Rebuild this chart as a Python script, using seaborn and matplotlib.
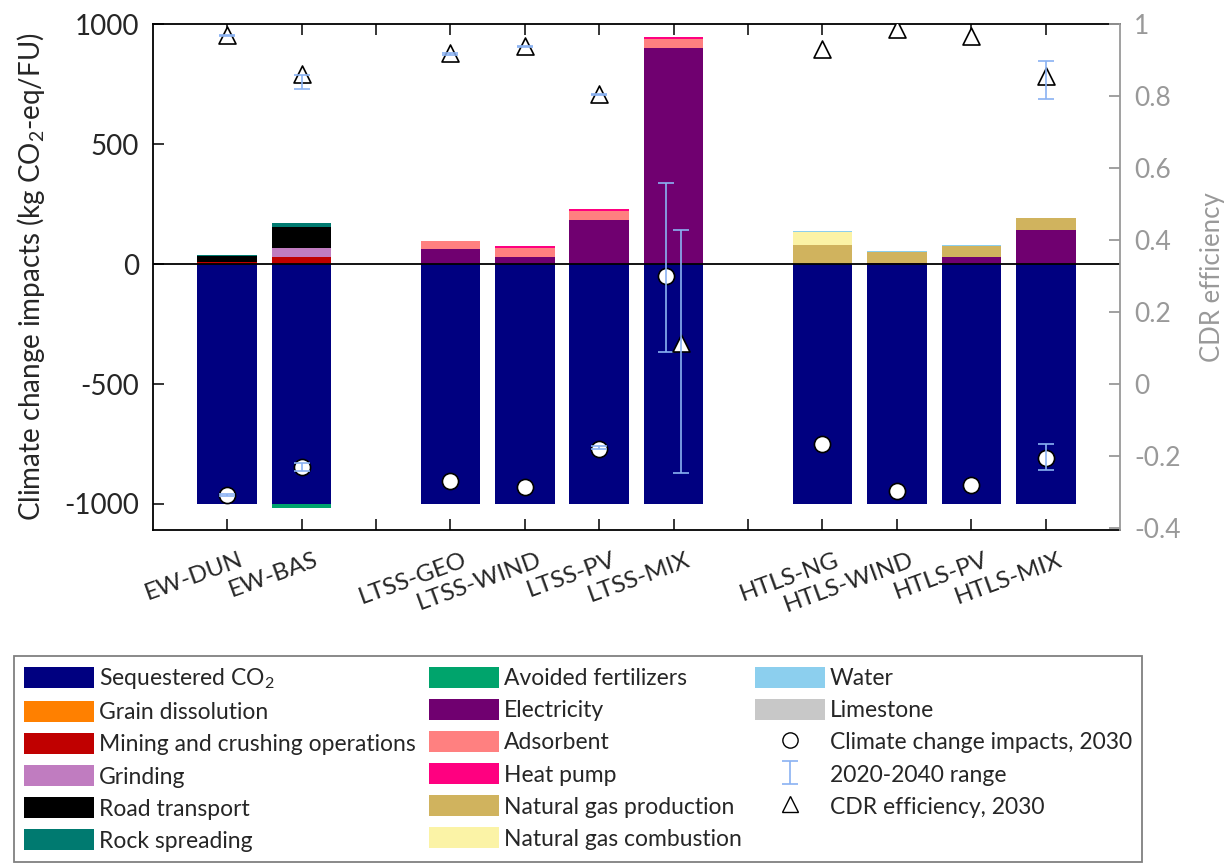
import numpy as np
import matplotlib.pyplot as plt
import matplotlib.transforms as mtransforms
import seaborn as sns
from matplotlib.lines import Line2D

sns.set_style('ticks')
plt.rcParams['font.family'] = ['Lato', 'DejaVu Sans']
plt.rcParams['mathtext.default'] = 'regular'
plt.rcParams['axes.unicode_minus'] = False

# Categories ('' = empty slot between groups)
categories = ['EW-DUN', 'EW-BAS', '', 'LTSS-GEO', 'LTSS-WIND', 'LTSS-PV', 'LTSS-MIX',
              '', 'HTLS-NG', 'HTLS-WIND', 'HTLS-PV', 'HTLS-MIX']

# Contributions (kg CO2-eq/FU)
sequestered = [-1000, -1000, 0, -1000, -1000, -1000, -1000, 0, -1000, -1000, -1000, -1000]
grain_dissolution = [0, 0, 0, 0, 0, 0, 0, 0, 0, 0, 0, 0]
mining = [8, 30, 0, 0, 0, 0, 0, 0, 0, 0, 0, 0]
grinding = [2, 39, 0, 0, 0, 0, 0, 0, 0, 0, 0, 0]
road_transport = [24, 86, 0, 0, 0, 0, 0, 0, 0, 0, 0, 0]
rock_spreading = [5, 17, 0, 0, 0, 0, 0, 0, 0, 0, 0, 0]
avoided_fertilizers = [0, -18, 0, 0, 0, 0, 0, 0, 0, 0, 0, 0]
electricity = [0, 0, 0, 61, 30, 184, 900, 0, 0, 5, 28, 140]
adsorbent = [0, 0, 0, 36, 37, 37, 38, 0, 0, 0, 0, 0]
heat_pump = [0, 0, 0, 0, 8, 8, 8, 0, 0, 0, 0, 0]
ng_production = [0, 0, 0, 0, 0, 0, 0, 0, 80, 46, 48, 50]
ng_combustion = [0, 0, 0, 0, 0, 0, 0, 0, 55, 0, 0, 0]
water = [0, 0, 0, 0, 0, 0, 0, 0, 3, 4, 3, 3]
limestone = [0, 0, 0, 0, 0, 0, 0, 0, 0, 0, 0, 0]

# Climate change impacts 2030 and 2020-2040 range
impact_2030 = [-962, -846, np.nan, -903, -928, -772, -51, np.nan, -752, -944, -920, -808]
impact_low = [-965, -862, np.nan, np.nan, np.nan, -771, -367, np.nan, np.nan, np.nan, np.nan, -860]
impact_high = [-960, -830, np.nan, np.nan, np.nan, -760, 336, np.nan, np.nan, np.nan, np.nan, -750]

# CDR efficiency 2030 and 2020-2040 range
cdr_2030 = [0.971, 0.861, np.nan, 0.919, 0.94, 0.806, 0.115, np.nan, 0.93, 0.987, 0.966, 0.857]
cdr_low = [0.967, 0.82, np.nan, 0.915, 0.936, 0.802, -0.248, np.nan, np.nan, np.nan, np.nan, 0.792]
cdr_high = [0.971, 0.86, np.nan, 0.919, 0.94, 0.806, 0.428, np.nan, np.nan, np.nan, np.nan, 0.899]

components = [
    ('Sequestered CO$_2$', sequestered, '#000080'),
    ('Grain dissolution', grain_dissolution, '#FF8000'),
    ('Mining and crushing operations', mining, '#C00000'),
    ('Grinding', grinding, '#C07CC0'),
    ('Road transport', road_transport, '#000000'),
    ('Rock spreading', rock_spreading, '#007A70'),
    ('Avoided fertilizers', avoided_fertilizers, '#00A46C'),
    ('Electricity', electricity, '#700070'),
    ('Adsorbent', adsorbent, '#FF8080'),
    ('Heat pump', heat_pump, '#FF0080'),
    ('Natural gas production', ng_production, '#D0B35E'),
    ('Natural gas combustion', ng_combustion, '#FBF3A6'),
    ('Water', water, '#8CCFEE'),
    ('Limestone', limestone, '#C8C8C8'),
]

err_color = '#8AB2F2'

fig, ax = plt.subplots(figsize=(12.31, 8.64), dpi=100)
fig.subplots_adjust(left=0.124, right=0.91, top=0.972, bottom=0.387)

x = np.arange(1, len(categories) + 1)
pos_bottom = np.zeros(len(x))
neg_bottom = np.zeros(len(x))
handles = []
for label, vals, color in components:
    vals = np.array(vals, dtype=float)
    bottom = np.where(vals >= 0, pos_bottom, neg_bottom)
    bars = ax.bar(x, vals, 0.8, bottom=bottom, color=color, label=label,
                  linewidth=0, zorder=2)
    handles.append(bars)
    pos_bottom += np.clip(vals, 0, None)
    neg_bottom += np.clip(vals, None, 0)

ax.axhline(0, color='black', lw=1.3, zorder=3)

# LTSS-MIX markers are nudged apart so they don't overlap
shift = np.where(np.array(categories) == 'LTSS-MIX', 0.1, 0.0)

impact = np.array(impact_2030, dtype=float)
sns.scatterplot(x=x - shift, y=impact, ax=ax, marker='o', s=135, color='white',
                edgecolor='black', linewidth=1.2, zorder=4, legend=False)
lo = np.array(impact_low, dtype=float)
hi = np.array(impact_high, dtype=float)
m = ~np.isnan(lo)
mid = (lo + hi) / 2
err_bar = ax.errorbar((x - shift)[m], mid[m], yerr=((hi - lo) / 2)[m], fmt='none',
                      ecolor=err_color, elinewidth=1.2, capsize=6, capthick=1.2,
                      zorder=5, label='2020-2040 range')

ax.set_xlim(0, 13)
ax.set_ylim(-1107, 1000)
ax.set_yticks([-1000, -500, 0, 500, 1000])
ax.set_ylabel('Climate change impacts (kg CO$_2$-eq/FU)', fontsize=20, labelpad=12)
ax.set_xticks(x)
ax.tick_params(axis='x', direction='in', top=True, length=8, width=1.3,
               labelsize=17.5, pad=14)
ax.tick_params(axis='y', direction='in', length=8, width=1.3, labelsize=20, pad=10)
for s in ['left', 'bottom', 'top']:
    ax.spines[s].set_color('black')
    ax.spines[s].set_linewidth(1.3)
ax.spines['right'].set_visible(False)

# Right axis: CDR efficiency
ax2 = ax.twinx()
ax2.set_ylim(-0.405, 1.0)
cdr = np.array(cdr_2030, dtype=float)
sns.scatterplot(x=x + shift, y=cdr, ax=ax2, marker='^', s=150, color='white',
                edgecolor='black', linewidth=1.2, zorder=4, legend=False)
clo = np.array(cdr_low, dtype=float)
chi = np.array(cdr_high, dtype=float)
m2 = ~np.isnan(clo)
cmid = (clo + chi) / 2
ax2.errorbar((x + shift)[m2], cmid[m2], yerr=((chi - clo) / 2)[m2], fmt='none',
             ecolor=err_color, elinewidth=1.2, capsize=6, capthick=1.2, zorder=5)
ax2.set_yticks(np.round(np.arange(-0.4, 1.01, 0.2), 1))
ax2.set_yticklabels([f'{v:g}' for v in np.round(np.arange(-0.4, 1.01, 0.2), 1)])
ax2.tick_params(axis='y', direction='in', length=8, width=1.3, colors='#999999',
                labelsize=19, pad=10)
ax2.set_ylabel('CDR efficiency', fontsize=18.5, color='#999999', labelpad=14)
for s in ['left', 'bottom', 'top']:
    ax2.spines[s].set_visible(False)
ax2.spines['right'].set_color('#999999')
ax2.spines['right'].set_linewidth(1.3)

# x labels: rotated, pushed a bit to the right of their ticks
ax.set_xticklabels(categories, rotation=20, ha='right', rotation_mode='anchor')
offset = mtransforms.ScaledTranslation(0.12, 0, fig.dpi_scale_trans)
for tick in ax.xaxis.get_major_ticks():
    tick.label1.set_transform(tick.label1.get_transform() + offset)

# Legend
circle_h = Line2D([], [], linestyle='none', marker='o', markersize=11,
                  markerfacecolor='white', markeredgecolor='black',
                  markeredgewidth=1.0, label='Climate change impacts, 2030')
tri_h = Line2D([], [], linestyle='none', marker='^', markersize=12,
               markerfacecolor='white', markeredgecolor='black',
               markeredgewidth=1.0, label='CDR efficiency, 2030')
handles = handles + [circle_h, err_bar, tri_h]
labels = [h.get_label() for h in handles]
leg = fig.legend(handles, labels, loc='upper left', ncol=3,
                 bbox_to_anchor=(14 / 1231, 1 - 656 / 864), borderaxespad=0,
                 fontsize=16.5, handlelength=3.05, handleheight=1.05,
                 handletextpad=0.2, labelspacing=0.42, columnspacing=0.6,
                 borderpad=0.45, numpoints=1, fancybox=False, framealpha=1)
leg.get_frame().set_edgecolor('#808080')
leg.get_frame().set_linewidth(1.3)

plt.savefig('out.png', dpi=100)
